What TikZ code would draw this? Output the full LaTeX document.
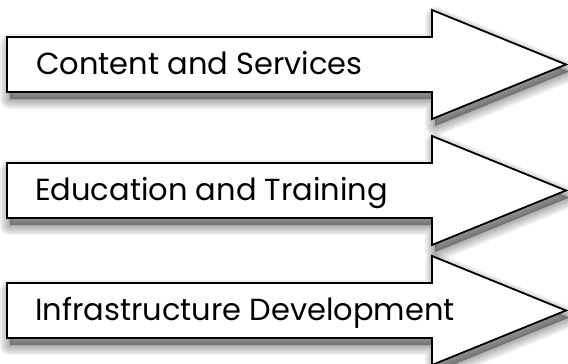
\documentclass[tikz,border=0pt]{standalone}
\usepackage{fontspec}
\setmainfont{Poppins}
\begin{document}
\begin{tikzpicture}[x=1pt,y=-1pt,
  bigarrow/.style={draw=black, line width=1.8pt, fill=white, line join=miter},
  shadowlayer/.style={draw=black, fill=black, line join=round, draw opacity=0.065, fill opacity=0.065},
  lbl/.style={anchor=base west, inner sep=0pt, font=\fontsize{30.5}{33}\selectfont}]
\useasboundingbox (0,0) rectangle (568,364);
\foreach \cy in {64.5,190.5,310.5}{
  \foreach \w in {20,16,12,8,4,1}{
    \path[shadowlayer, line width=\w pt, shift={(3,7)}] (7,\cy-27.5) -- (432,\cy-27.5) -- (432,\cy-54.5) -- (566,\cy) -- (432,\cy+54.5) -- (432,\cy+27.5) -- (7,\cy+27.5) -- cycle;
  }
}
\foreach \cy in {64.5,190.5,310.5}{
  \path[bigarrow] (7,\cy-27.5) -- (432,\cy-27.5) -- (432,\cy-54.5) -- (566,\cy) -- (432,\cy+54.5) -- (432,\cy+27.5) -- (7,\cy+27.5) -- cycle;
}
\node[lbl] (t1) at (36,74) {Content and Services};
\node[lbl] (t2) at (35,200) {Education and Training};
\node[lbl] (t3) at (35,320) {Infrastructure Development};
\end{tikzpicture}
\end{document}
